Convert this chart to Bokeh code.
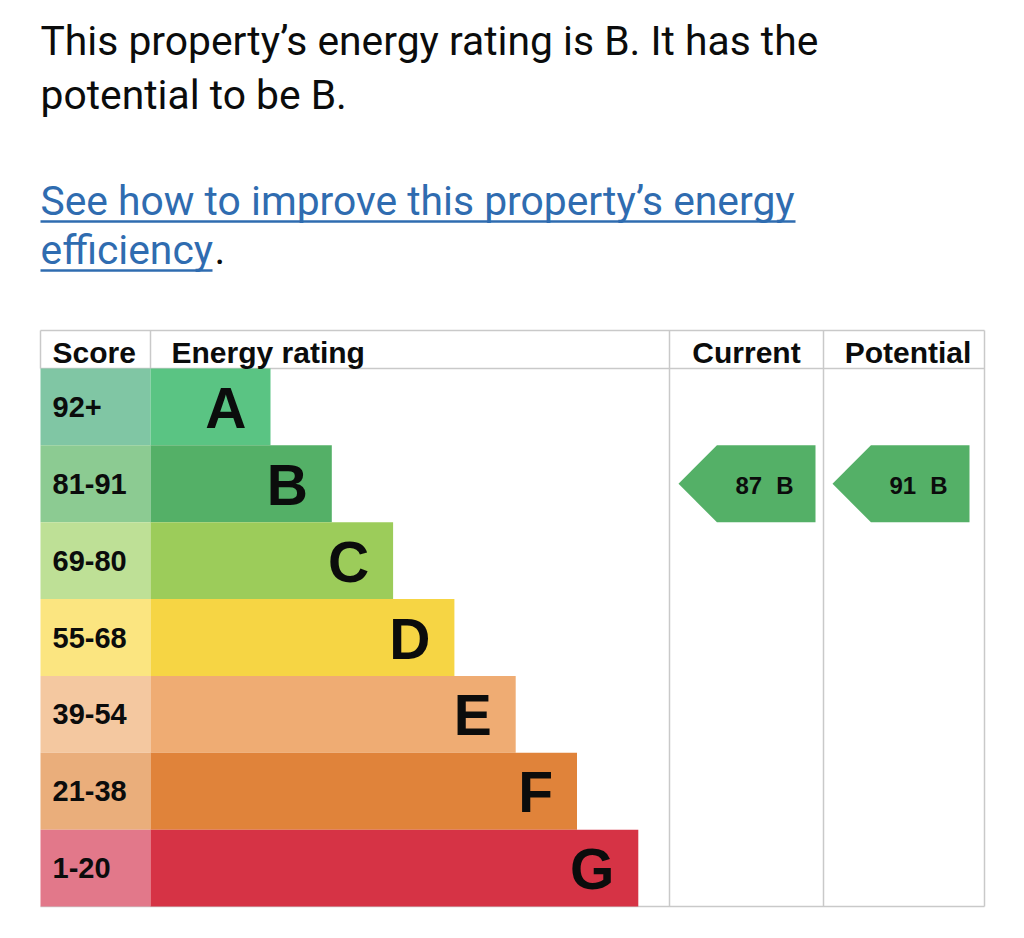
from bokeh.plotting import figure
from bokeh.models import Range1d
from bokeh.core.properties import value
from bokeh.embed import file_html
from bokeh.resources import INLINE

# ---- data ----
intro_lines = ["This property\u2019s energy rating is B. It has the",
               "potential to be B."]
link_lines = ["See how to improve this property\u2019s energy",
              "efficiency"]
headers = ["Score", "Energy rating", "Current", "Potential"]
bands = ["A", "B", "C", "D", "E", "F", "G"]
score_ranges = ["92+", "81-91", "69-80", "55-68", "39-54", "21-38", "1-20"]
current_score = 87
current_band = "B"
potential_score = 91
potential_band = "B"

# ---- styles ----
band_colours = ["#5ac483", "#54b067", "#9ccc5a", "#f6d544",
                "#efac73", "#e0833a", "#d63345"]
score_colours = ["#80c6a4", "#8ccb92", "#bee096", "#fbe580",
                 "#f4c8a0", "#eaae7b", "#e2788a"]
GRID = "#c9c9c9"
TEXT = "#0b0c0c"
LINK = "#2f6cb0"
BODY_FONT = value("Roboto")
TABLE_FONT = value("Liberation Sans")
BODY_SIZE = "40.8px"

# ---- layout (page pixels) ----
W, H = 1008, 922
LEFT = 40
T_LEFT, T_RIGHT = 40, 984
T_TOP, HEAD_BOTTOM, T_BOTTOM = 330, 368, 906
ROW_H = (T_BOTTOM - HEAD_BOTTOM) / len(bands)
SCORE_RIGHT = 150
BAR_BASE, BAR_STEP = 120, 61.3
CUR_LEFT, POT_LEFT = 669, 823

p = figure(width=W, height=H, output_backend="svg", toolbar_location=None,
           x_range=Range1d(0, W), y_range=Range1d(H, 0),
           x_axis_type=None, y_axis_type=None, min_border=0)
p.grid.visible = False
p.outline_line_color = None
p.background_fill_color = "white"

# intro paragraph
p.text(x=[LEFT] * 2, y=[40, 94], text=intro_lines, text_font=BODY_FONT,
       text_font_size=BODY_SIZE, text_color=TEXT, text_baseline="middle")

# link paragraph with underline
p.text(x=[LEFT] * 2, y=[200, 249], text=link_lines, text_font=BODY_FONT,
       text_font_size=BODY_SIZE, text_color=LINK, text_baseline="middle")
p.segment(x0=[LEFT, LEFT], x1=[795, 212], y0=[221, 270], y1=[221, 270],
          line_color=LINK, line_width=2.5)
p.text(x=[214], y=[249], text=["."], text_font=BODY_FONT,
       text_font_size=BODY_SIZE, text_color=TEXT, text_baseline="middle")

# table rules
p.segment(x0=[T_LEFT, T_LEFT, T_LEFT, T_LEFT, SCORE_RIGHT, CUR_LEFT, POT_LEFT, T_RIGHT],
          x1=[T_RIGHT, T_RIGHT, T_RIGHT, T_LEFT, SCORE_RIGHT, CUR_LEFT, POT_LEFT, T_RIGHT],
          y0=[T_TOP, HEAD_BOTTOM, T_BOTTOM, T_TOP, T_TOP, T_TOP, T_TOP, T_TOP],
          y1=[T_TOP, HEAD_BOTTOM, T_BOTTOM, HEAD_BOTTOM, HEAD_BOTTOM, T_BOTTOM, T_BOTTOM, T_BOTTOM],
          line_color=GRID, line_width=1.5)

# rows
tops = [HEAD_BOTTOM + i * ROW_H for i in range(len(bands))]
bottoms = [t + ROW_H for t in tops]
mids = [t + ROW_H / 2 for t in tops]
bar_right = [SCORE_RIGHT + BAR_BASE + i * BAR_STEP for i in range(len(bands))]

p.quad(left=T_LEFT, right=SCORE_RIGHT, top=tops, bottom=bottoms,
       fill_color=score_colours, line_color=None)
p.quad(left=SCORE_RIGHT, right=bar_right, top=tops, bottom=bottoms,
       fill_color=band_colours, line_color=None)

p.text(x=[52] * len(bands), y=mids, text=score_ranges, text_font=TABLE_FONT,
       text_font_style="bold", text_font_size="29px", text_color=TEXT,
       text_baseline="middle")
p.text(x=[r - 24 for r in bar_right], y=[m + 1 for m in mids], text=bands,
       text_align="right", text_font=TABLE_FONT, text_font_style="bold",
       text_font_size="57px", text_color=TEXT, text_baseline="middle")

# header (drawn after the bars so descenders sit on top)
head_x = [52, 171, (CUR_LEFT + POT_LEFT) / 2, (POT_LEFT + T_RIGHT) / 2 + 4]
head_align = ["left", "left", "center", "center"]
p.text(x=head_x, y=[352] * 4, text=headers, text_align=head_align,
       text_font=TABLE_FONT, text_font_style="bold", text_font_size="30px",
       text_color=TEXT, text_baseline="middle")


def rating_arrow(col_left, score, band):
    i = bands.index(band)
    top, bottom, mid = tops[i], bottoms[i], mids[i]
    tip = col_left + 9
    body = tip + ROW_H / 2
    right = tip + 137
    centre = (body + right) / 2
    p.patch(x=[tip, body, right, right, body], y=[mid, top, top, bottom, bottom],
            fill_color=band_colours[i], line_color=None)
    p.text(x=[centre - 4], y=[mid + 2], text=[str(score)], text_align="right",
           text_baseline="middle", text_font=TABLE_FONT,
           text_font_style="bold", text_font_size="24px", text_color=TEXT)
    p.text(x=[centre + 10], y=[mid + 2], text=[band], text_align="left",
           text_baseline="middle", text_font=TABLE_FONT,
           text_font_style="bold", text_font_size="24px", text_color=TEXT)


rating_arrow(CUR_LEFT, current_score, current_band)
rating_arrow(POT_LEFT, potential_score, potential_band)

open("out.html", "w").write(file_html(p, INLINE))
